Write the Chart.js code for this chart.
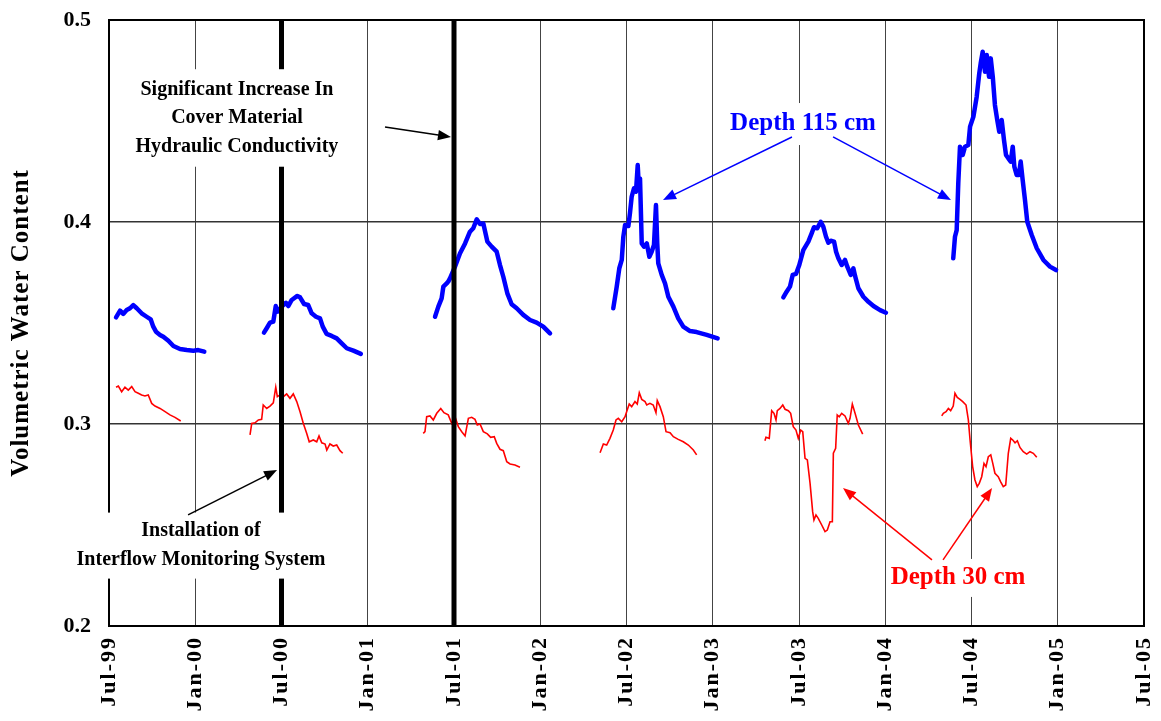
<!DOCTYPE html>
<html>
<head>
<meta charset="utf-8">
<script src="https://cdn.jsdelivr.net/npm/chart.js@4.4.1/dist/chart.umd.min.js"></script>
<style>
    body { margin: 0; background: #fff; }
    #wrap { width: 1161px; height: 721px; }
</style>
</head>
<body>
<div id="wrap"><canvas id="waterChart"></canvas></div>
<script>
// x values are months after Jul-99
const xTickLabels = ['Jul-99', 'Jan-00', 'Jul-00', 'Jan-01', 'Jul-01', 'Jan-02', 'Jul-02',
    'Jan-03', 'Jul-03', 'Jan-04', 'Jul-04', 'Jan-05', 'Jul-05'];
const yRange = [0.2, 0.5];
const eventMonths = [12, 24];

// Depth 115 cm, null = no record
const depth115 = [
    [0.49, .3528], [0.77, .3561], [0.99, .3545], [1.23, .3564], [1.46, .3573], [1.69, .3589], [1.93, .3573],
    [2.27, .3548], [2.62, .3531], [2.90, .3518], [3.08, .3482], [3.27, .3457], [3.55, .3441], [3.78, .3432],
    [4.13, .3412], [4.48, .3386], [4.94, .3371], [5.41, .3366], [5.87, .3363], [6.21, .3366], [6.63, .3358],
    null,
    [10.78, .3452], [10.97, .3474], [11.2, .3502], [11.43, .3507], [11.6, .3584], [11.71, .3556], [12.01, .3581],
    [12.31, .3600], [12.47, .3584], [12.71, .3614], [13.1, .3634], [13.29, .3627], [13.57, .3594], [13.86, .3589],
    [14.1, .3548], [14.4, .3531], [14.68, .3523], [14.87, .3482], [15.14, .3446], [15.49, .3436], [15.84, .3424],
    [16.19, .3399], [16.54, .3375], [17.0, .3363], [17.52, .3347],
    null,
    [22.68, .3531], [22.91, .3581], [23.14, .3622], [23.26, .3680], [23.49, .3696], [23.6, .3705], [23.72, .3721],
    [24.07, .3779], [24.42, .3845], [24.77, .3894], [25.11, .3952], [25.34, .3969], [25.58, .4013], [25.81, .3990],
    [26.04, .3993], [26.32, .3903], [26.62, .3878], [26.97, .3853], [27.2, .3787], [27.43, .3729], [27.71, .3647],
    [28.01, .3593], [28.36, .3573], [28.82, .3540], [29.29, .3515], [29.75, .3502], [30.21, .3482], [30.68, .3449],
    null,
    [35.08, .3573], [35.32, .3680], [35.5, .3771], [35.67, .3812], [35.78, .3927], [35.9, .3985], [36.13, .3980],
    [36.24, .4043], [36.36, .4125], [36.52, .4167], [36.66, .4150], [36.78, .4282], [36.87, .4158], [36.94, .4216],
    [37.06, .3894], [37.22, .3878], [37.41, .3894], [37.59, .3828], [37.75, .3853], [37.91, .3886], [38.05, .4084],
    [38.14, .3894], [38.21, .3795], [38.45, .3738], [38.68, .3696], [38.91, .3630], [39.26, .3581], [39.6, .3523],
    [39.95, .3482], [40.42, .3460], [40.88, .3455], [41.58, .3441], [42.34, .3424],
    null,
    [46.91, .3627], [47.14, .3655], [47.37, .3680], [47.56, .3738], [47.79, .3743], [48.02, .3787], [48.3, .3861],
    [48.65, .3903], [48.88, .3944], [49.04, .3974], [49.27, .3969], [49.51, .4001], [49.69, .3977], [49.88, .3927],
    [50.04, .3898], [50.21, .3907], [50.44, .3903], [50.58, .3853], [50.74, .3820], [50.97, .3787], [51.2, .3812],
    [51.36, .3779], [51.6, .3738], [51.78, .3771], [51.9, .3733], [52.13, .3672], [52.48, .3630], [52.83, .3605],
    [53.18, .3584], [53.64, .3564], [54.05, .3551],
    null,
    [58.73, .3820], [58.85, .3927], [58.97, .3960], [59.08, .4192], [59.2, .4373], [59.39, .4332], [59.55, .4373],
    [59.78, .4381], [59.9, .4472], [60.13, .4521], [60.36, .4620], [60.54, .4736], [60.64, .4786], [60.78, .4843],
    [60.94, .4744], [61.06, .4827], [61.22, .4719], [61.34, .4810], [61.48, .4719], [61.63, .4579], [61.79, .4505],
    [61.93, .4447], [62.1, .4505], [62.26, .4406], [62.4, .4332], [62.56, .4315], [62.73, .4299], [62.87, .4373],
    [62.98, .4274], [63.14, .4233], [63.3, .4233], [63.42, .4299], [63.56, .4208], [63.72, .4109], [63.88, .4001],
    [64.19, .3936], [64.54, .3870], [65.0, .3812], [65.46, .3779], [65.88, .3762]
];

// Depth 30 cm
const depth30 = [
    [0.49, .3182], [0.65, .3188], [0.88, .3160], [1.11, .3182], [1.34, .3168], [1.58, .3185], [1.81, .3160],
    [2.04, .3152], [2.27, .3144], [2.5, .3139], [2.73, .3144], [2.97, .3102], [3.2, .3089], [3.55, .3077],
    [3.9, .3061], [4.24, .3045], [4.59, .3033], [4.99, .3015],
    null,
    [9.81, .2946], [9.93, .3003], [10.16, .3006], [10.39, .3020], [10.62, .3023], [10.73, .3094], [10.97, .3077],
    [11.2, .3089], [11.43, .3105], [11.6, .3182], [11.71, .3135], [11.9, .3144], [12.13, .3135], [12.36, .3149],
    [12.59, .3127], [12.82, .3149], [13.06, .3111], [13.29, .3061], [13.52, .3003], [13.75, .2954], [13.93, .2912],
    [14.21, .2921], [14.45, .2912], [14.61, .2941], [14.8, .2907], [15.03, .2901], [15.15, .2871], [15.37, .2901],
    [15.6, .2891], [15.84, .2896], [16.07, .2868], [16.26, .2855],
    null,
    [21.86, .2954], [21.98, .2962], [22.1, .3036], [22.33, .3040], [22.56, .3020], [22.8, .3053], [23.08, .3077],
    [23.3, .3056], [23.6, .3045], [23.84, .3003], [24.07, .3036], [24.3, .2987], [24.54, .2962], [24.77, .2941],
    [25.0, .3028], [25.23, .3033], [25.46, .3023], [25.62, .2995], [25.81, .3000], [26.04, .2962], [26.32, .2951],
    [26.55, .2934], [26.8, .2937], [26.97, .2904], [27.2, .2875], [27.43, .2868], [27.67, .2813], [27.9, .2802],
    [28.24, .2797], [28.59, .2786],
    null,
    [34.16, .2858], [34.39, .2901], [34.62, .2896], [34.85, .2929], [35.08, .2970], [35.27, .3020], [35.43, .3028],
    [35.67, .3011], [35.9, .3036], [36.01, .3061], [36.19, .3099], [36.36, .3086], [36.59, .3111], [36.75, .3099],
    [36.89, .3155], [37.06, .3122], [37.29, .3111], [37.41, .3094], [37.63, .3102], [37.86, .3094], [38.05, .3056],
    [38.14, .3116], [38.33, .3086], [38.56, .3036], [38.75, .2962], [39.03, .2957], [39.26, .2937], [39.6, .2924],
    [39.95, .2912], [40.3, .2896], [40.65, .2871], [40.88, .2847],
    null,
    [45.63, .2917], [45.70, .2934], [45.93, .2929], [46.10, .3066], [46.26, .3053], [46.40, .3020], [46.49, .3066],
    [46.68, .3077], [46.87, .3094], [47.03, .3073], [47.26, .3066], [47.42, .3053], [47.60, .2987], [47.79, .2970],
    [47.95, .2929], [48.12, .2970], [48.26, .2962], [48.42, .2830], [48.58, .2822], [48.77, .2706], [48.95, .2566],
    [49.04, .2525], [49.18, .2550], [49.34, .2533], [49.58, .2500], [49.81, .2467], [49.97, .2475], [50.16, .2516],
    [50.32, .2516], [50.39, .2855], [50.55, .2880], [50.66, .3045], [50.80, .3036], [50.97, .3053], [51.20, .3040],
    [51.43, .3003], [51.55, .3028], [51.71, .3099], [51.90, .3053], [52.13, .2995], [52.43, .2950],
    null,
    [57.93, .3040], [58.04, .3053], [58.23, .3061], [58.39, .3077], [58.55, .3066], [58.73, .3089], [58.85, .3152],
    [59.01, .3132], [59.2, .3122], [59.39, .3111], [59.62, .3094], [59.78, .3020], [59.9, .2921], [60.08, .2789],
    [60.24, .2723], [60.4, .2690], [60.54, .2706], [60.71, .2739], [60.87, .2805], [61.01, .2789], [61.17, .2838],
    [61.34, .2847], [61.48, .2805], [61.63, .2756], [61.86, .2739], [62.03, .2714], [62.21, .2690], [62.38, .2698],
    [62.56, .2855], [62.73, .2929], [62.87, .2921], [63.03, .2907], [63.19, .2917], [63.37, .2884], [63.6, .2863],
    [63.84, .2851], [64.07, .2863], [64.3, .2855], [64.54, .2835]
];

const FONT = '"Liberation Serif", "Times New Roman", serif';

// text boxes and arrows, placed in data units (month, value)
const notes = [
    { lines: ['Significant Increase In', 'Cover Material', 'Hydraulic Conductivity'], month: 8.9, value: 0.4515,
      size: 20, lineHeight: 28.5, padX: 3, padY: 6, color: '#000' },
    { lines: ['Installation of', 'Interflow Monitoring System'], month: 6.4, value: 0.2398,
      size: 20, lineHeight: 29, padX: 4, padY: 4, color: '#000' },
    { lines: ['Depth 115 cm'], month: 48.28, value: 0.4485, size: 25, lineHeight: 30, padX: 4, padY: 6, color: '#0000ff' },
    { lines: ['Depth 30 cm'], month: 59.06, value: 0.2238, size: 25, lineHeight: 30, padX: 4, padY: 4, color: '#ff0000' }
];
const arrows = [
    { from: [19.2, 0.4470], to: [23.79, 0.4421], color: '#000' },
    { from: [5.5, 0.2550], to: [11.69, 0.2772], color: '#000' },
    { from: [47.51, 0.4421], to: [38.54, 0.4109], color: '#0000ff' },
    { from: [50.37, 0.4421], to: [58.57, 0.4109], color: '#0000ff' },
    { from: [57.25, 0.2327], to: [51.06, 0.2683], color: '#ff0000' },
    { from: [58.02, 0.2327], to: [61.43, 0.2683], color: '#ff0000' }
];

function toPoints(series) {
    let lastX = 0;
    return series.map(p => {
        if (p === null) return { x: lastX, y: null };
        lastX = p[0];
        return { x: p[0], y: p[1] };
    });
}

function drawArrow(ctx, x0, y0, x1, y1, color) {
    const head = 14;
    const ang = Math.atan2(y1 - y0, x1 - x0);
    ctx.strokeStyle = color;
    ctx.fillStyle = color;
    ctx.lineWidth = 1.5;
    ctx.beginPath();
    ctx.moveTo(x0, y0);
    ctx.lineTo(x1 - head * 0.8 * Math.cos(ang), y1 - head * 0.8 * Math.sin(ang));
    ctx.stroke();
    ctx.beginPath();
    ctx.moveTo(x1, y1);
    ctx.lineTo(x1 - head * Math.cos(ang - 0.38), y1 - head * Math.sin(ang - 0.38));
    ctx.lineTo(x1 - head * Math.cos(ang + 0.38), y1 - head * Math.sin(ang + 0.38));
    ctx.closePath();
    ctx.fill();
}

// wrap a scale drawing step so its text gets extra letter spacing
function spaced(scale, method, spacing) {
    if (scale['_sp_' + method]) return;
    const orig = scale[method];
    scale[method] = function (...args) {
        this.ctx.letterSpacing = spacing;
        orig.apply(this, args);
        this.ctx.letterSpacing = '0px';
    };
    scale['_sp_' + method] = true;
}

const notesPlugin = {
    id: 'notes',
    beforeDraw(chart) {
        spaced(chart.scales.x, 'drawLabels', '2px');
        spaced(chart.scales.y, 'drawTitle', '1px');
    },
    beforeDatasetsDraw(chart) {
        const { ctx, chartArea: a } = chart;
        ctx.save();
        ctx.strokeStyle = '#000';
        ctx.lineWidth = 2;
        ctx.strokeRect(a.left, a.top, a.width, a.height);
        ctx.restore();
    },
    afterDraw(chart) {
        const { ctx, scales: { x, y } } = chart;
        ctx.save();
        ctx.textAlign = 'center';
        ctx.textBaseline = 'middle';
        notes.forEach(n => {
            ctx.font = 'bold ' + n.size + 'px ' + FONT;
            const w = Math.max(...n.lines.map(t => ctx.measureText(t).width));
            const h = n.lineHeight * n.lines.length;
            const cx = x.getPixelForValue(n.month);
            const cy = y.getPixelForValue(n.value);
            ctx.fillStyle = '#fff';
            ctx.fillRect(cx - w / 2 - n.padX, cy - h / 2 - n.padY, w + 2 * n.padX, h + 2 * n.padY);
            ctx.fillStyle = n.color;
            n.lines.forEach((t, i) => ctx.fillText(t, cx, cy - h / 2 + n.lineHeight * (i + 0.5)));
        });
        arrows.forEach(r => {
            drawArrow(ctx, x.getPixelForValue(r.from[0]), y.getPixelForValue(r.from[1]),
                x.getPixelForValue(r.to[0]), y.getPixelForValue(r.to[1]), r.color);
        });
        ctx.restore();
    }
};

const eventSets = eventMonths.map(m => ({
    data: [{ x: m, y: yRange[0] }, { x: m, y: yRange[1] }],
    borderColor: '#000',
    borderWidth: 5,
    pointRadius: 0
}));

new Chart(document.getElementById('waterChart'), {
    type: 'line',
    data: {
        datasets: [
            ...eventSets,
            {
                label: 'Depth 115 cm',
                data: toPoints(depth115),
                borderColor: '#0000ff',
                borderWidth: 4.5,
                borderCapStyle: 'round',
                borderJoinStyle: 'round',
                pointRadius: 0,
                spanGaps: false
            },
            {
                label: 'Depth 30 cm',
                data: toPoints(depth30),
                borderColor: '#ff0000',
                borderWidth: 1.6,
                pointRadius: 0,
                spanGaps: false
            }
        ]
    },
    options: {
        responsive: true,
        maintainAspectRatio: false,
        animation: false,
        layout: { padding: { top: 20, right: 17, left: 0, bottom: 0 } },
        plugins: {
            legend: { display: false },
            tooltip: { enabled: false }
        },
        scales: {
            x: {
                type: 'linear',
                min: 0,
                max: 72,
                afterFit(scale) {
                    scale.height = 95;
                    scale.paddingLeft = 0;
                    scale.paddingRight = 0;
                },
                afterBuildTicks(scale) {
                    scale.ticks = xTickLabels.map((l, i) => ({ value: i * 6 }));
                },
                border: { display: false },
                grid: { color: '#444', lineWidth: 1, drawTicks: false },
                ticks: {
                    autoSkip: false,
                    maxRotation: 90,
                    minRotation: 90,
                    padding: 10,
                    color: '#000',
                    font: { family: FONT, size: 22, weight: 'bold' },
                    callback: (v) => xTickLabels[Math.round(v / 6)]
                }
            },
            y: {
                min: yRange[0],
                max: yRange[1],
                afterFit(scale) {
                    scale.width = 109;
                    scale.paddingTop = 0;
                    scale.paddingBottom = 0;
                },
                border: { display: false },
                grid: { color: '#333', lineWidth: 1.5, drawTicks: false },
                ticks: {
                    stepSize: 0.1,
                    padding: 18,
                    color: '#000',
                    font: { family: FONT, size: 22, weight: 'bold' },
                    callback: (v) => v.toFixed(1)
                },
                title: {
                    display: true,
                    text: 'Volumetric Water Content',
                    color: '#000',
                    font: { family: FONT, size: 25, weight: 'bold' },
                    padding: { top: 7, bottom: 0 }
                }
            }
        }
    },
    plugins: [notesPlugin]
});
</script>
</body>
</html>
